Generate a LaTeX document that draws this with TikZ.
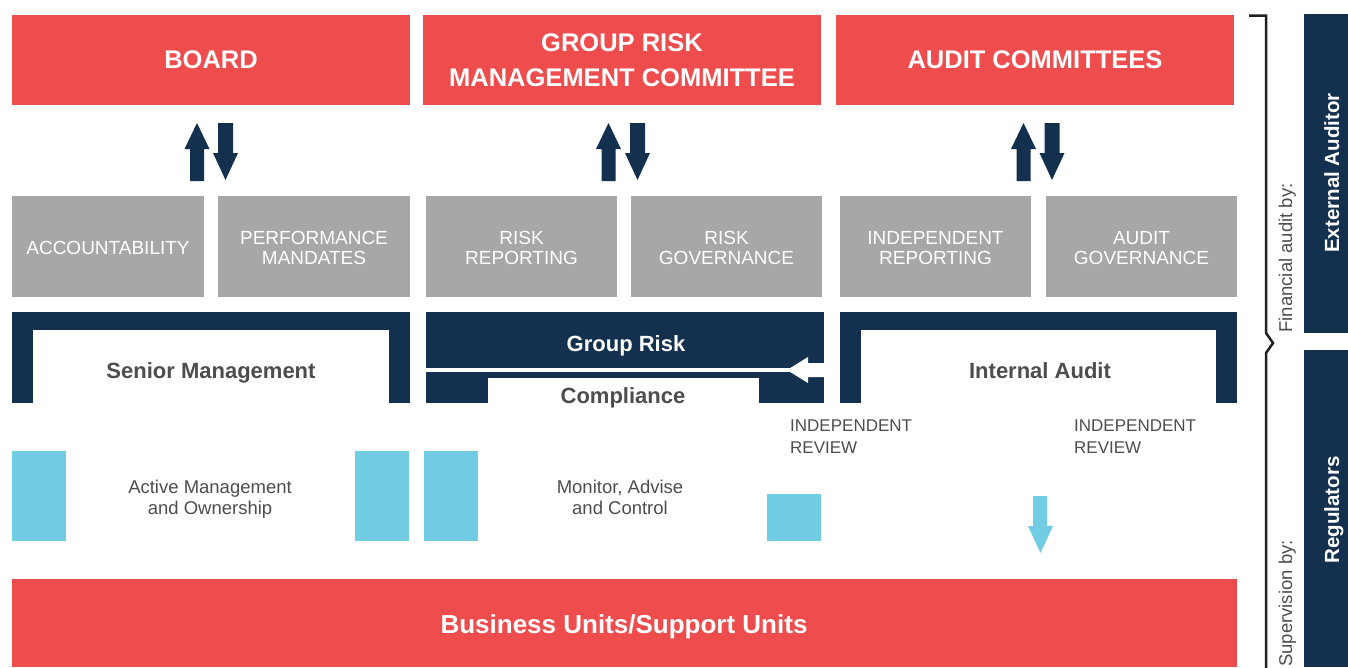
\documentclass[tikz,border=0pt]{standalone}
\usepackage{fontspec}
\setmainfont{Liberation Sans}

\definecolor{brandred}{HTML}{EF4C4D}
\definecolor{navy}{HTML}{13304F}
\definecolor{panelgray}{HTML}{A5A7A8}
\definecolor{skyblue}{HTML}{70CDE3}
\definecolor{labelgray}{HTML}{4D4D4D}
\definecolor{bracegray}{HTML}{231F20}

% \cornerbox{name}{style}{x1}{y1}{x2}{y2}{text}: a box given by two corners
\newcommand\cornerbox[7]{%
  \node[#2, minimum width={(#5-#3)*1pt}, minimum height={(#6-#4)*1pt}]
    (#1) at ({(#3+#5)/2},{(#4+#6)/2}) {#7};}

\begin{document}
\begin{tikzpicture}[x=1pt,y=-1pt,
  box/.style={rectangle, inner sep=0pt, outer sep=0pt, align=center, draw=none},
  headbox/.style={box, fill=brandred, text=white, font=\fontsize{25.5}{35}\selectfont\bfseries},
  dutybox/.style={box, fill=panelgray},
  dutytext/.style={inner sep=0pt, yshift=-1.5pt, align=center, text=white, font=\fontsize{19}{20.5}\selectfont},
  navybox/.style={box, fill=navy},
  blankbox/.style={box, fill=white},
  tabbox/.style={box, fill=skyblue},
  unitlabel/.style={anchor=base, inner sep=0pt, text=labelgray, font=\fontsize{22}{26}\selectfont\bfseries},
  notelabel/.style={inner sep=0pt, text=labelgray, align=center, font=\fontsize{18.5}{21}\selectfont},
  reviewlabel/.style={anchor=base west, inner sep=0pt, text=labelgray, align=left, font=\fontsize{17}{22}\selectfont},
  sidelabel/.style={rotate=90, anchor=base, inner sep=0pt, text=labelgray, font=\fontsize{18.5}{22}\selectfont},
  sidename/.style={rotate=90, anchor=base, inner sep=0pt, text=white, font=\fontsize{20.5}{24}\selectfont\bfseries},
]
\useasboundingbox (0,0) rectangle (1348,667);

% top level bodies
\cornerbox{board}{headbox}{12}{15}{410}{105}{BOARD}
\cornerbox{grmc}{headbox}{423}{15}{821}{105}{GROUP RISK\\MANAGEMENT COMMITTEE}
\cornerbox{audit}{headbox}{836}{15}{1234}{105}{AUDIT COMMITTEES}

% two-way block arrows under each body
\foreach \ux in {197,608.5,1023.5}
  \fill[navy] (\ux,123) -- ({\ux+12.5},149) -- ({\ux+7},149) -- ({\ux+7},181)
    -- ({\ux-7},181) -- ({\ux-7},149) -- ({\ux-12.5},149) -- cycle;
\foreach \dx in {225.5,637.5,1052}
  \fill[navy] ({\dx-7.5},123) -- ({\dx+7.5},123) -- ({\dx+7.5},153) -- ({\dx+12.5},153)
    -- (\dx,180) -- ({\dx-12.5},153) -- ({\dx-7.5},153) -- cycle;

% duties
\cornerbox{acc}{dutybox}{12}{196}{204}{297}{}
\cornerbox{perf}{dutybox}{218}{196}{410}{297}{}
\cornerbox{riskrep}{dutybox}{426}{196}{617}{297}{}
\cornerbox{riskgov}{dutybox}{631}{196}{822}{297}{}
\cornerbox{indrep}{dutybox}{840}{196}{1031}{297}{}
\cornerbox{auditgov}{dutybox}{1046}{196}{1237}{297}{}
\node[dutytext] (acctext) at (acc.center) {ACCOUNTABILITY};
\node[dutytext] (perftext) at (perf.center) {PERFORMANCE\\MANDATES};
\node[dutytext] (riskreptext) at (riskrep.center) {RISK\\REPORTING};
\node[dutytext] (riskgovtext) at (riskgov.center) {RISK\\GOVERNANCE};
\node[dutytext] (indreptext) at (indrep.center) {INDEPENDENT\\REPORTING};
\node[dutytext] (auditgovtext) at (auditgov.center) {AUDIT\\GOVERNANCE};

% senior management frame
\cornerbox{senior}{navybox}{12}{312}{410}{403}{}
\cornerbox{seniorin}{blankbox}{33}{330}{389}{403}{}
\node[unitlabel] (seniortext) at (211,378) {Senior Management};

% group risk and compliance
\cornerbox{grouprisk}{navybox}{426}{312}{824}{368}{}
\node[unitlabel, text=white] (grouprisktext) at (626,351) {Group Risk};
\cornerbox{compl}{navybox}{426}{372}{824}{403}{}
\cornerbox{complin}{blankbox}{488}{378}{759}{403}{}
\node[unitlabel] (compltext) at (623,403) {Compliance};
\fill[white] (824,363) -- (808,363) -- (808,357) -- (787,370) -- (808,383)
  -- (808,377) -- (824,377) -- cycle;

% internal audit frame
\cornerbox{internal}{navybox}{840}{312}{1237}{403}{}
\cornerbox{internalin}{blankbox}{861}{330}{1216}{403}{}
\node[unitlabel] (internaltext) at (1040,378) {Internal Audit};

% independent review notes
\node[reviewlabel] (review1) at (790,453) {INDEPENDENT\\REVIEW};
\node[reviewlabel] (review2) at (1074,453) {INDEPENDENT\\REVIEW};

% lines of defence tabs
\cornerbox{tab1}{tabbox}{12}{451}{66}{541}{}
\cornerbox{tab2}{tabbox}{355}{451}{409}{541}{}
\cornerbox{tab3}{tabbox}{424}{451}{478}{541}{}
\cornerbox{tab4}{tabbox}{767}{494}{821}{541}{}
\node[notelabel] (activetext) at (210,499) {Active Management\\and Ownership};
\node[notelabel] (monitortext) at (620,497) {Monitor, Advise\\and Control};
\fill[skyblue] (1033,496) -- (1047,496) -- (1047,526) -- (1053,526) -- (1040.5,553)
  -- (1028,526) -- (1033,526) -- cycle;

% business units
\cornerbox{units}{headbox}{12}{579}{1237}{667}{}
\node[anchor=base, inner sep=0pt, text=white, font=\fontsize{26}{30}\selectfont\bfseries]
  (unitstext) at (624,633) {Business Units/Support Units};

% external oversight
\draw[bracegray, line width=2.5pt] (1249,15.7) -- (1266,15.7) -- (1266,333)
  -- (1273,343) -- (1266,353) -- (1266,670);
\node[sidelabel] (finlabel) at (1292,258) {Financial audit by:};
\node[sidelabel] (suplabel) at (1292,603.5) {Supervision by:};
\cornerbox{extaud}{navybox}{1304}{14}{1348}{333}{}
\cornerbox{regs}{navybox}{1304}{350}{1348}{667}{}
\node[sidename] (extaudtext) at (1339,173) {External Auditor};
\node[sidename] (regstext) at (1339,510) {Regulators};
\end{tikzpicture}
\end{document}
